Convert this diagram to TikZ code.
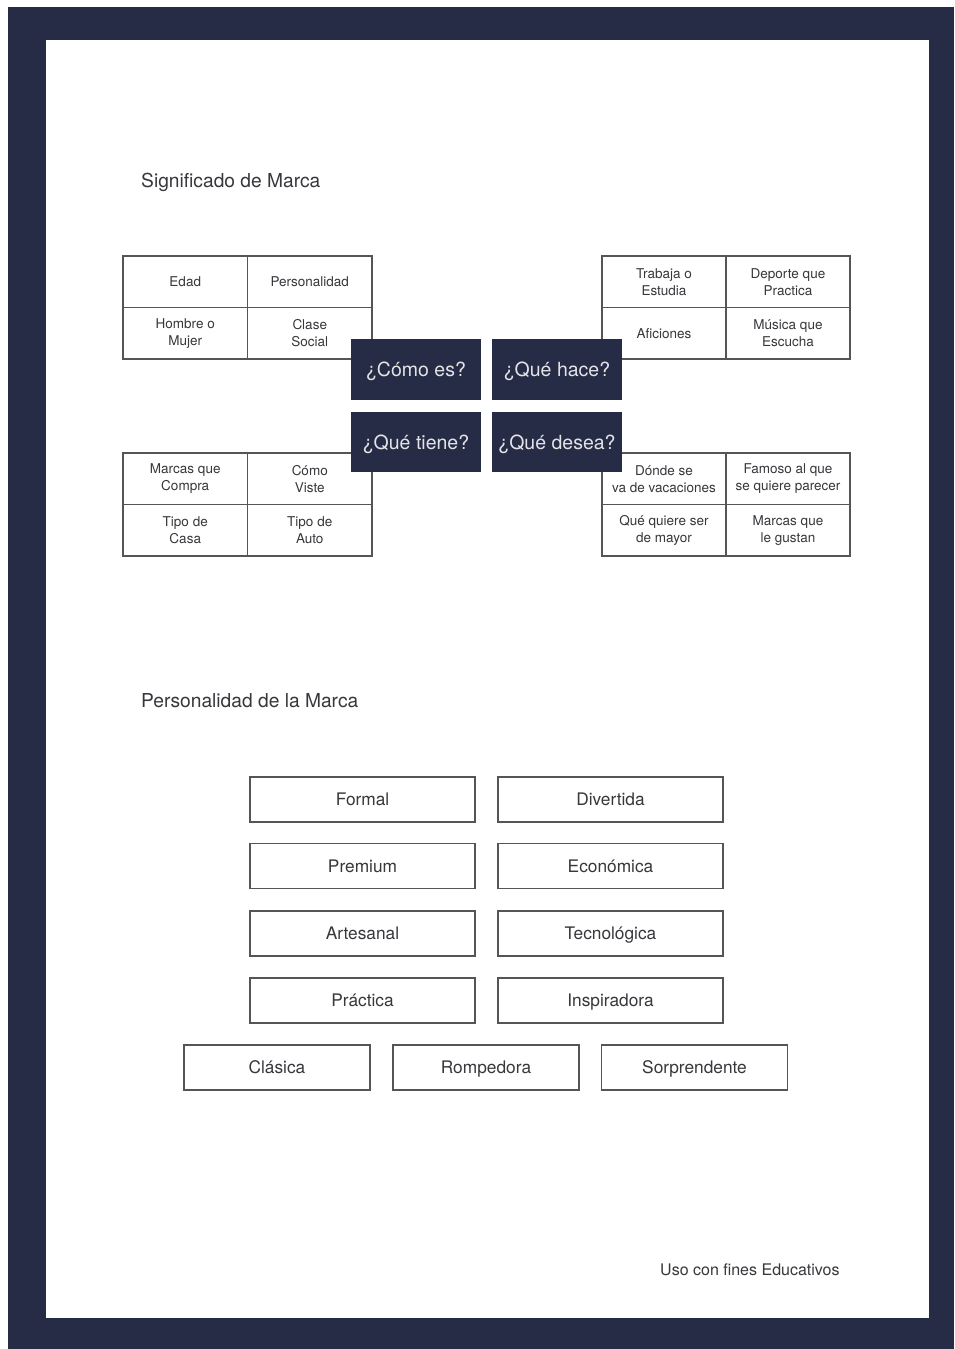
\documentclass[tikz,border=0pt]{standalone}
\usepackage{fontspec}
\setmainfont{TeX Gyre Heros}
\definecolor{navy}{RGB}{38,44,69}
\definecolor{gridgray}{RGB}{85,85,85}
\definecolor{txt}{RGB}{55,55,60}
\definecolor{qtxt}{RGB}{228,228,232}
\begin{document}
\begin{tikzpicture}[x=1pt,y=-1pt,
  cell/.style={draw=gridgray, line width=1.3pt, minimum width=124.5pt, minimum height=51.5pt, inner sep=0pt, align=center, text=txt, font=\fontsize{13.5}{17}\selectfont},
  qbox/.style={fill=navy, draw=none, minimum width=130pt, minimum height=61pt, inner sep=0pt, text=qtxt, text height=14.5pt, text depth=0.5pt, font=\fontsize{19.5}{22}\selectfont},
  pbox/.style={draw=gridgray, line width=1.3pt, minimum width=225pt, minimum height=45pt, inner sep=0pt, text=txt, text height=13pt, text depth=0.5pt, font=\fontsize{17.3}{20}\selectfont},
  sbox/.style={pbox, minimum width=186pt},
  heading/.style={anchor=west, inner sep=0pt, text=txt, font=\fontsize{19.2}{22}\selectfont},
  footer/.style={anchor=west, inner sep=0pt, text=txt, font=\fontsize{16}{18}\selectfont}]
\useasboundingbox (0,0) rectangle (954,1349);
% page frame
\fill[white] (0,0) rectangle (954,1349);
\fill[navy] (8,7) rectangle (954,1349);
\fill[white] (46,40) rectangle (929,1318);

% headings
\node[heading] (t1) at (141,182) {Significado de Marca};
\node[heading] (t2) at (141,701) {Personalidad de la Marca};
\node[footer] (ft) at (660,1269.5) {Uso con fines Educativos};

% top-left grid
\node[cell] (a1) at (185.25,281.75) {Edad};
\node[cell] (a2) at (309.75,281.75) {Personalidad};
\node[cell] (a3) at (185.25,333.25) {Hombre o\\Mujer};
\node[cell] (a4) at (309.75,333.25) {Clase\\Social};
% bottom-left grid
\node[cell] (c1) at (185.25,478.75) {Marcas que\\Compra};
\node[cell] (c2) at (309.75,478.75) {Cómo\\Viste};
\node[cell] (c3) at (185.25,530.25) {Tipo de\\Casa};
\node[cell] (c4) at (309.75,530.25) {Tipo de\\Auto};
% top-right grid
\node[cell, minimum width=124pt] (b1) at (664,281.75) {Trabaja o\\Estudia};
\node[cell, minimum width=124pt] (b2) at (788,281.75) {Deporte que\\Practica};
\node[cell, minimum width=124pt] (b3) at (664,333.25) {Aficiones};
\node[cell, minimum width=124pt] (b4) at (788,333.25) {Música que\\Escucha};
% bottom-right grid
\node[cell, minimum width=124pt] (d1) at (664,478.75) {Dónde se\\va de vacaciones};
\node[cell, minimum width=124pt] (d2) at (788,478.75) {Famoso al que\\se quiere parecer};
\node[cell, minimum width=124pt] (d3) at (664,530.25) {Qué quiere ser\\de mayor};
\node[cell, minimum width=124pt] (d4) at (788,530.25) {Marcas que\\le gustan};

% question boxes
\node[qbox] (q1) at (416,369.5) {¿Cómo es?};
\node[qbox] (q2) at (557,369.5) {¿Qué hace?};
\node[qbox, minimum height=60pt] (q3) at (416,442) {¿Qué tiene?};
\node[qbox, minimum height=60pt] (q4) at (557,442) {¿Qué desea?};

% personality
\node[pbox] (p1) at (362.5,799.5) {Formal};
\node[pbox] (p2) at (610.5,799.5) {Divertida};
\node[pbox] (p3) at (362.5,866) {Premium};
\node[pbox] (p4) at (610.5,866) {Económica};
\node[pbox] (p5) at (362.5,933.5) {Artesanal};
\node[pbox] (p6) at (610.5,933.5) {Tecnológica};
\node[pbox] (p7) at (362.5,1000.5) {Práctica};
\node[pbox] (p8) at (610.5,1000.5) {Inspiradora};
\node[sbox] (s1) at (277,1067.5) {Clásica};
\node[sbox] (s2) at (486,1067.5) {Rompedora};
\node[sbox] (s3) at (694.5,1067.5) {Sorprendente};
\end{tikzpicture}
\end{document}
